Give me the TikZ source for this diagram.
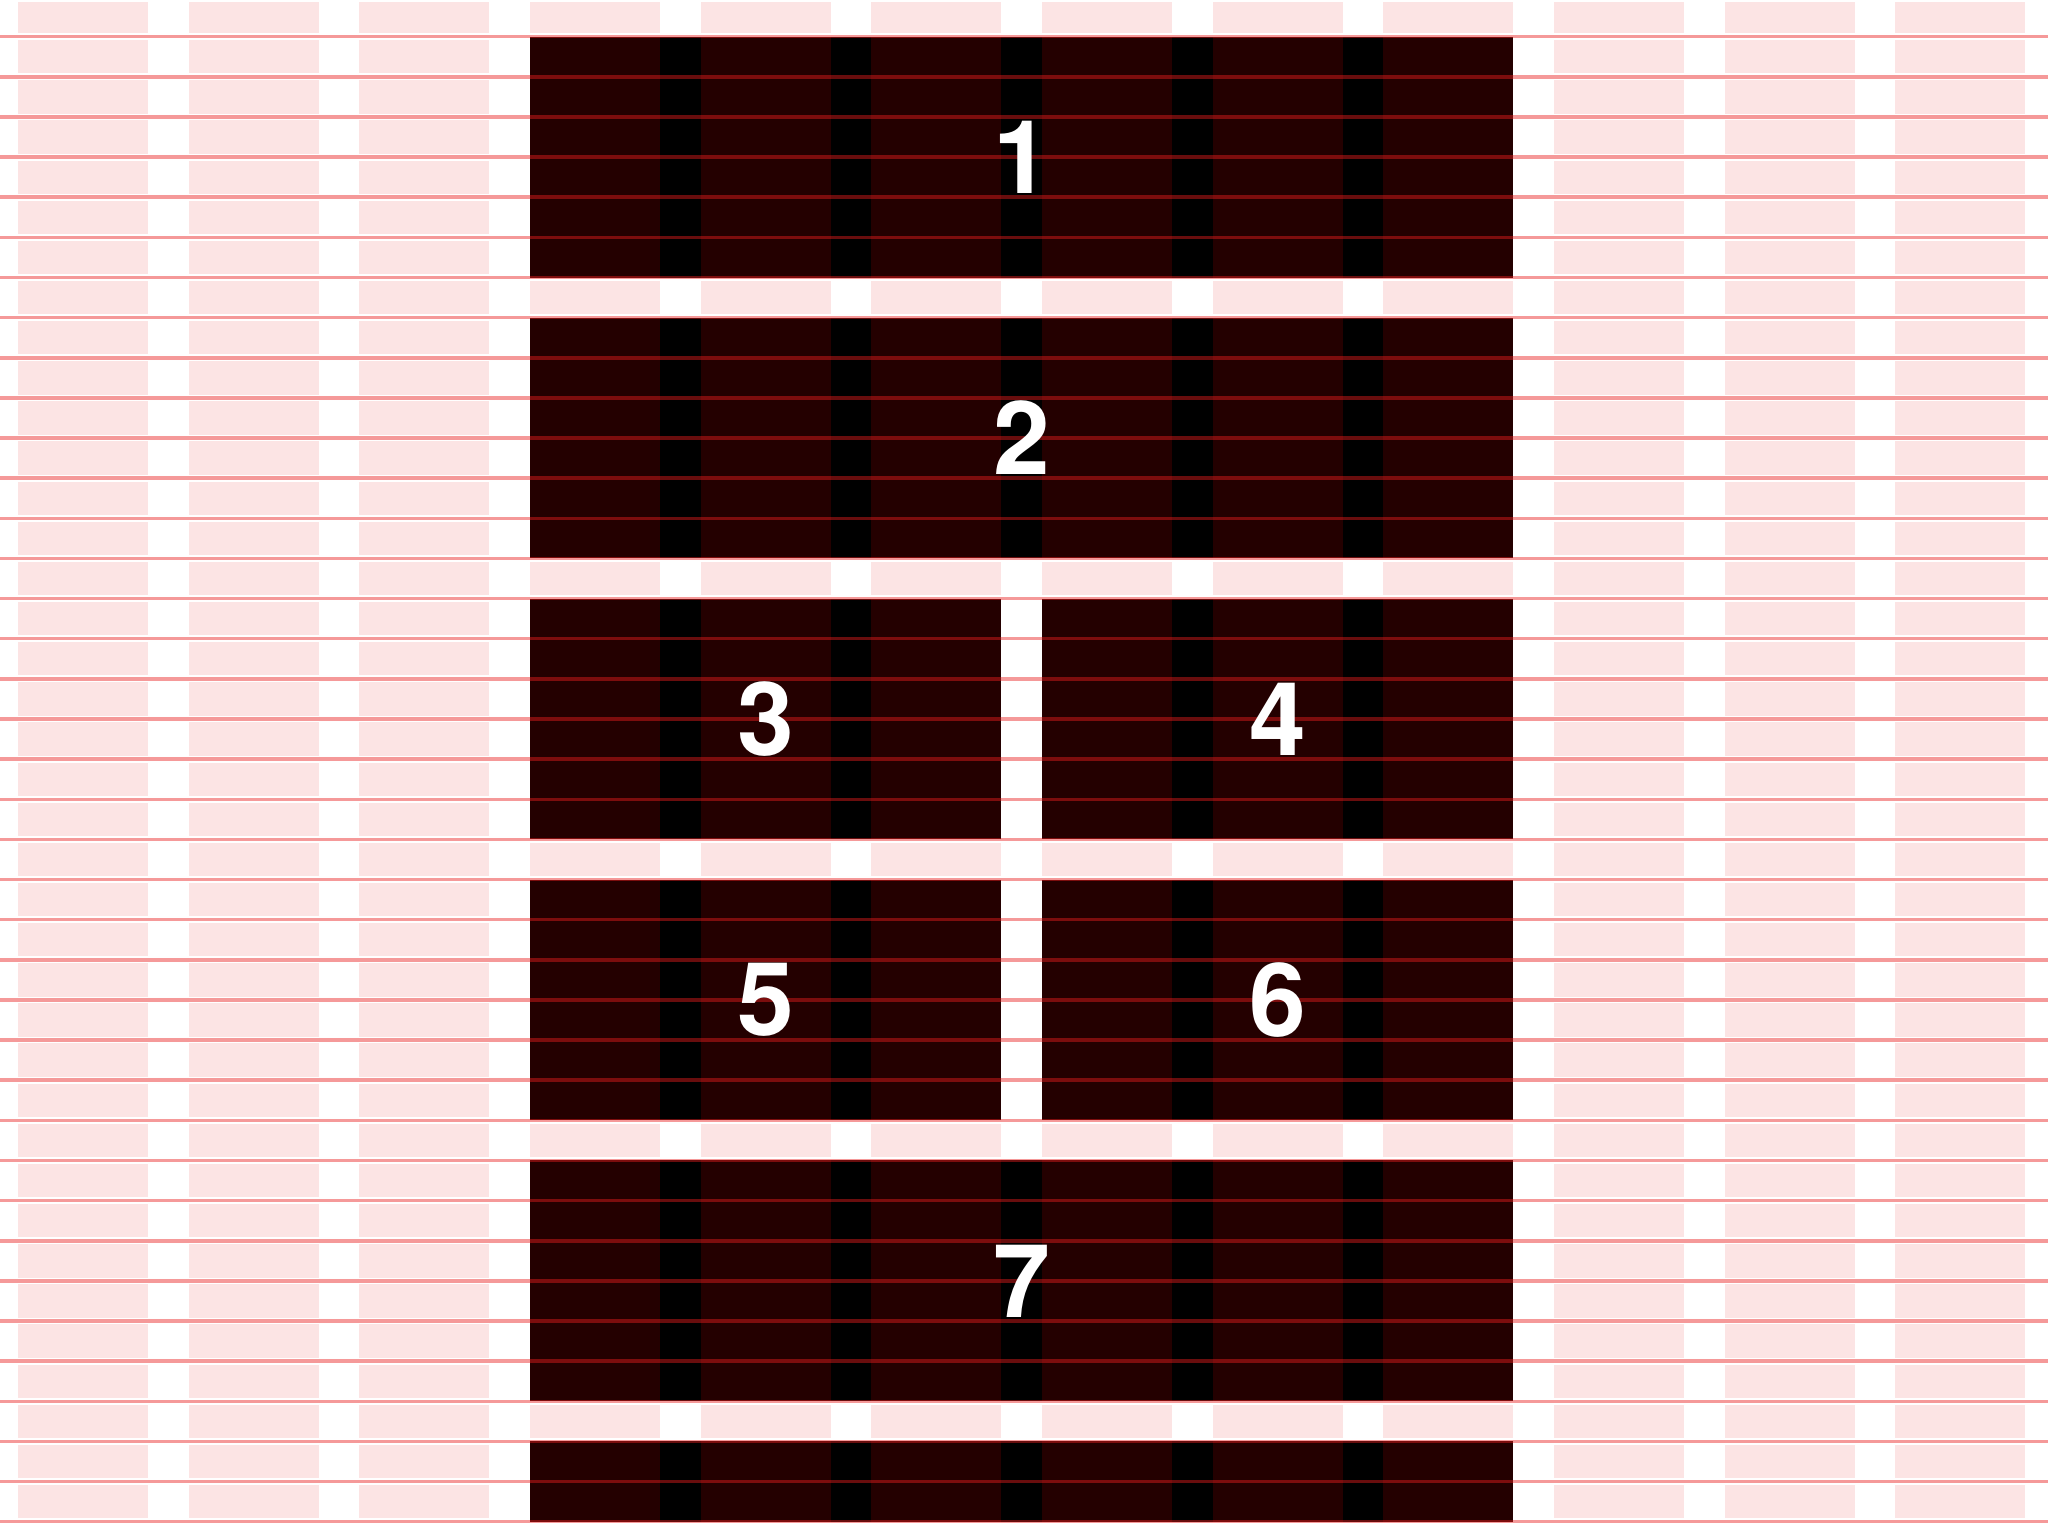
\documentclass[tikz,border=0pt]{standalone}
\usepackage{fontspec}
\setmainfont{TeX Gyre Heros}
\definecolor{pinkcol}{RGB}{252,228,228}
\definecolor{boxdark}{RGB}{36,0,0}
\definecolor{gridred}{RGB}{235,30,30}
\tikzset{
  colfill/.style={fill=pinkcol},
  boxfill/.style={fill=boxdark},
  boxgutter/.style={fill=black},
  halo/.style={draw=white, line width=3.4pt},
  baserule/.style={draw=gridred, draw opacity=0.45, line width=1.75pt},
  numlabel/.style={text=white, font=\fontsize{51}{60}\selectfont\bfseries, inner sep=0pt},
}
\newcommand\drawgridbox[4]{%
  \pgfmathsetmacro\bxa{\xo+#1*\cp}%
  \pgfmathsetmacro\bxb{\xo+#2*\cp+\cw}%
  \fill[boxfill] (\bxa,#3) rectangle (\bxb,#4);%
  \pgfmathtruncatemacro\cend{#2-1}%
  \foreach \c in {#1,...,\cend}{%
    \pgfmathsetmacro\gxa{\xo+\c*\cp+\cw}%
    \pgfmathsetmacro\gxb{\xo+(\c+1)*\cp}%
    \fill[boxgutter] (\gxa,#3) rectangle (\gxb,#4);%
  }%
}
\begin{document}
\begin{tikzpicture}[x=0.5pt,y=-0.5pt]
\def\yo{36.7}\def\s{40.135}\def\cw{130}\def\cp{170.667}\def\xo{18}
\useasboundingbox (0,0) rectangle (2048,1536);
\fill[white] (0,0) rectangle (2048,1536);
% background columns
\foreach \c in {0,...,11}{
  \pgfmathsetmacro\xa{\xo+\c*\cp}
  \pgfmathsetmacro\xb{\xa+\cw}
  \fill[colfill] (\xa,2) rectangle (\xb,1518);
}
% white halos around baselines
\foreach \k in {0,...,37}{
  \pgfmathsetmacro\yy{\yo+\k*\s}
  \draw[halo] (0,\yy) -- (2048,\yy);
}
% boxes
\foreach \r in {0,...,5}{
  \pgfmathsetmacro\ta{\yo+7*\r*\s}
  \pgfmathsetmacro\tb{min(\ta+6*\s,\yo+37*\s)}
  \ifnum\r=2 \drawgridbox{3}{5}{\ta}{\tb}\drawgridbox{6}{8}{\ta}{\tb}
  \else\ifnum\r=3 \drawgridbox{3}{5}{\ta}{\tb}\drawgridbox{6}{8}{\ta}{\tb}
  \else \drawgridbox{3}{8}{\ta}{\tb}\fi\fi
}
% baselines
\foreach \k in {0,...,37}{
  \pgfmathsetmacro\yy{\yo+\k*\s}
  \draw[baserule] (0,\yy) -- (2048,\yy);
}
% number positions
\pgfmathsetmacro\xfull{(530+1513.33)/2}
\pgfmathsetmacro\xleft{(530+1001.33)/2}
\pgfmathsetmacro\xright{(1042+1513.33)/2}
\pgfmathsetmacro\ya{\yo+3*\s}
\pgfmathsetmacro\yb{\yo+10*\s}
\pgfmathsetmacro\yc{\yo+17*\s}
\pgfmathsetmacro\yd{\yo+24*\s}
\pgfmathsetmacro\ye{\yo+31*\s}
\coordinate (c1) at (\xfull,\ya);
\coordinate (c2) at (\xfull,\yb);
\coordinate (c3) at (\xleft,\yc);
\coordinate (c4) at (\xright,\yc);
\coordinate (c5) at (\xleft,\yd);
\coordinate (c6) at (\xright,\yd);
\coordinate (c7) at (\xfull,\ye);
\node[numlabel] (n1) at (c1) {1};
\node[numlabel] (n2) at (c2) {2};
\node[numlabel] (n3) at (c3) {3};
\node[numlabel] (n4) at (c4) {4};
\node[numlabel] (n5) at (c5) {5};
\node[numlabel] (n6) at (c6) {6};
\node[numlabel] (n7) at (c7) {7};
\end{tikzpicture}
\end{document}
